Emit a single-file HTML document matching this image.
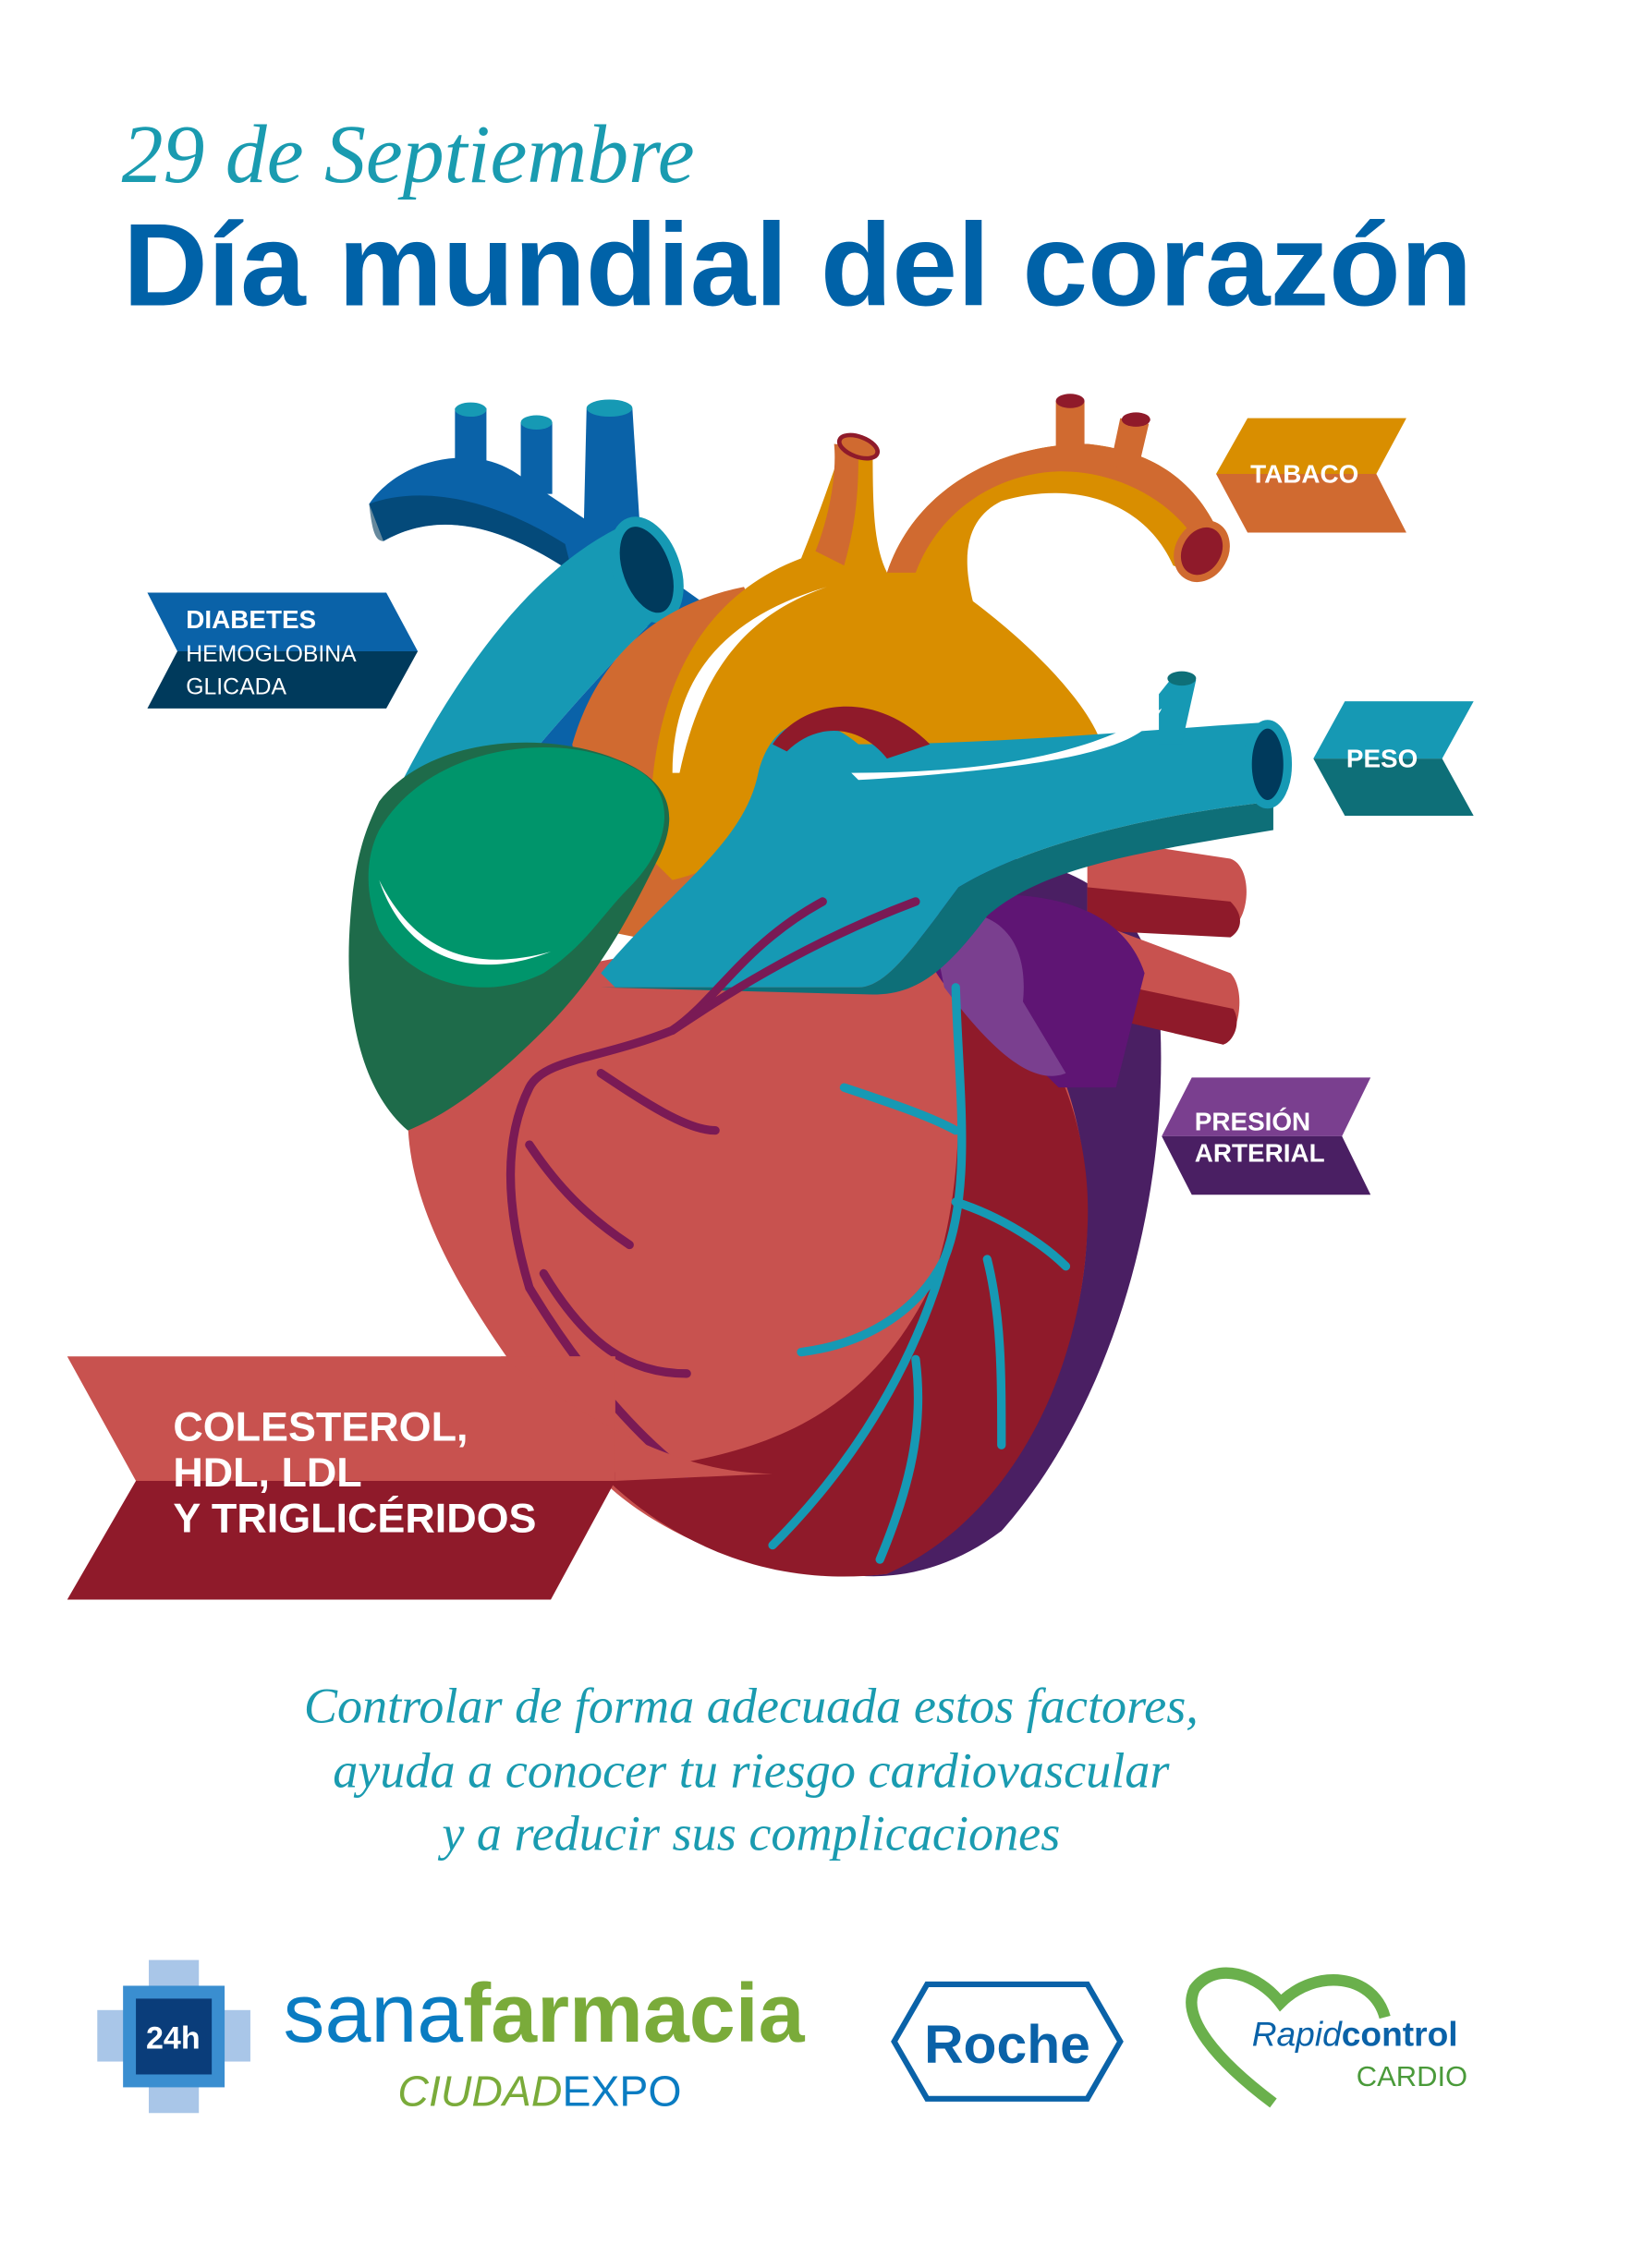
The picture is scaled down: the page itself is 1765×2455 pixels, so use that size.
<!DOCTYPE html>
<html><head><meta charset="utf-8">
<style>
html,body{margin:0;padding:0;background:#fff;}
svg{display:block;}
</style></head>
<body>
<svg width="1765" height="2455" viewBox="0 0 1140 1585" xmlns="http://www.w3.org/2000/svg">
<rect width="1140" height="1585" fill="#fff"/>
<text x="85" y="127" font-family="Liberation Serif, serif" font-style="italic" font-size="58" fill="#1a9bb0">29 de Septiembre</text>
<text x="86" y="213" font-family="Liberation Sans, sans-serif" font-weight="bold" font-size="82" fill="#0062a8">Día mundial del corazón</text>

<!-- Heart -->
<path d="M640 600 C720 590 800 610 810 700 C820 830 780 980 700 1070 C660 1100 620 1105 590 1100 L640 600Z" fill="#4a1f63"/>
<path d="M760 585 L860 600 C875 605 875 640 860 650 L760 640Z" fill="#c8524f"/>
<path d="M760 620 L860 630 C870 640 868 650 860 655 L760 650Z" fill="#8f1a2a"/>
<path d="M780 650 L860 680 C870 690 868 720 855 730 L790 710Z" fill="#c8524f"/>
<path d="M790 690 L862 705 C868 715 862 728 855 730 L790 715Z" fill="#8f1a2a"/>
<path d="M300 720 C370 660 560 650 660 660 C720 680 760 760 760 850 C760 960 700 1060 620 1100 C540 1110 440 1070 400 1010 C330 920 285 850 285 780 Z" fill="#c8524f"/>
<path d="M420 1030 C520 1020 600 1000 650 900 C680 820 670 720 660 660 C720 690 765 770 760 860 C755 970 700 1065 620 1100 C540 1110 470 1080 420 1030Z" fill="#8f1a2a"/>
<path d="M640 630 C700 620 780 620 800 680 L780 760 L740 760 C700 720 660 700 650 670Z" fill="#5f1574"/>
<path d="M650 640 C690 630 720 650 715 700 L745 750 C720 760 690 730 660 690Z" fill="#7a3f8f"/>
<path d="M258 352 C280 320 330 310 360 330 L420 370 L490 420 L470 450 L400 400 C340 360 300 360 268 378 Z" fill="#0a62a8"/>
<path d="M258 352 C260 370 262 378 268 378 C300 360 340 360 400 400 L395 380 C340 345 290 340 258 352Z" fill="#003a5c" opacity="0.6"/>
<rect x="318" y="285" width="22" height="60" fill="#0a62a8"/><ellipse cx="329" cy="286" rx="11" ry="5" fill="#1699b4"/>
<rect x="364" y="295" width="22" height="50" fill="#0a62a8"/><ellipse cx="375" cy="295" rx="11" ry="5" fill="#1699b4"/>
<path d="M410 285 L442 285 L448 380 L408 370Z" fill="#0a62a8"/><ellipse cx="426" cy="285" rx="16" ry="6" fill="#1699b4"/>
<path d="M255 600 C300 500 360 400 440 365 C470 370 480 410 460 430 C410 480 340 560 300 620Z" fill="#1699b4"/>
<path d="M300 620 C340 560 410 480 460 430 L470 480 C430 520 380 580 330 640Z" fill="#0a62a8"/>
<ellipse cx="452" cy="398" rx="20" ry="35" transform="rotate(-20 452 398)" fill="#003a5c" stroke="#1699b4" stroke-width="7"/>
<path d="M400 520 C420 450 470 420 520 410 L560 500 L470 660 L420 650Z" fill="#d06a30"/>
<path d="M455 600 C450 500 480 420 560 390 C580 340 585 320 590 310 L610 310 C610 350 610 380 620 400 C640 340 700 310 760 310 C810 315 840 340 855 380 C840 390 830 400 820 395 C800 350 750 335 700 350 C680 360 670 380 680 420 C720 450 760 490 770 520 L560 560 C520 600 490 610 470 615Z" fill="#d98e00"/>
<path d="M620 400 C640 340 700 310 760 310 C810 315 840 340 855 380 L840 385 C820 345 770 325 730 330 C690 335 655 360 640 400Z" fill="#d06a30"/>
<path d="M583 310 C585 330 580 360 570 385 L590 395 C600 360 600 335 600 312Z" fill="#d06a30"/>
<ellipse cx="600" cy="312" rx="14" ry="7" transform="rotate(20 600 312)" fill="#d06a30" stroke="#8f1a2a" stroke-width="3"/>
<rect x="738" y="280" width="20" height="40" fill="#d06a30"/><ellipse cx="748" cy="280" rx="10" ry="5" fill="#8f1a2a"/>
<path d="M783 292 L803 296 L795 330 L776 325Z" fill="#d06a30"/><ellipse cx="794" cy="293" rx="10" ry="5" fill="#8f1a2a"/>
<ellipse cx="840" cy="385" rx="16" ry="20" transform="rotate(30 840 385)" fill="#8f1a2a" stroke="#d06a30" stroke-width="5"/>
<path d="M470 540 C470 470 510 430 578 410 C520 430 490 470 475 540Z" fill="#fff"/>
<path d="M420 680 C470 620 520 590 530 540 C540 500 570 495 600 520 C700 520 800 510 880 505 L890 560 C800 570 720 590 670 620 C640 660 620 690 600 690 L430 690Z" fill="#1699b4"/>
<path d="M430 690 L600 690 C620 690 640 660 670 620 C720 590 800 570 890 560 L890 580 C800 595 730 605 690 640 C660 680 640 695 610 695 L420 690Z" fill="#0e6f78"/>
<path d="M810 485 L822 470 L836 475 L826 520 L810 520Z" fill="#1699b4"/><ellipse cx="826" cy="474" rx="10" ry="5" fill="#0e6f78"/>
<ellipse cx="886" cy="534" rx="14" ry="28" fill="#003a5c" stroke="#1699b4" stroke-width="6"/>
<path d="M595 540 C680 540 760 530 812 495 C800 520 760 535 600 545Z" fill="#fff"/>
<path d="M540 520 C560 490 610 480 650 520 L620 530 C600 505 570 505 550 525Z" fill="#8f1a2a"/>
<path d="M265 560 C300 515 380 510 430 530 C470 545 475 570 460 600 C440 640 420 680 380 720 C340 760 310 780 285 790 C250 760 240 700 245 640 C248 600 255 580 265 560Z" fill="#1e6b4a"/>
<path d="M265 580 C300 520 390 510 440 535 C475 550 470 590 440 620 C420 640 410 660 380 680 C340 700 290 690 265 650 C255 625 255 600 265 580Z" fill="#00956b"/>
<path d="M265 615 C280 660 320 690 385 665 C330 680 290 665 265 615Z" fill="#fff"/>
<g fill="none" stroke="#7a1a55" stroke-width="6" stroke-linecap="round">
<path d="M575 630 C520 660 500 700 470 720 C420 740 380 740 370 760 C350 800 355 850 370 900 C400 950 440 1000 480 1030"/>
<path d="M470 720 C500 700 560 660 640 630"/>
<path d="M370 800 C390 830 410 850 440 870"/>
<path d="M380 890 C410 940 440 960 480 960"/>
<path d="M420 750 C450 770 480 790 500 790"/>
</g>
<g fill="none" stroke="#1699b4" stroke-width="6" stroke-linecap="round">
<path d="M668 690 C670 760 680 830 660 880 C640 920 600 940 560 945"/>
<path d="M660 880 C640 950 600 1020 540 1080"/>
<path d="M668 840 C700 850 730 870 745 885"/>
<path d="M590 760 C620 770 650 780 668 790"/>
<path d="M640 950 C645 990 640 1030 615 1090"/>
<path d="M690 880 C700 920 700 960 700 1010"/>
</g>

<g font-family="Liberation Sans, sans-serif" font-weight="bold" fill="#fff">
<path d="M872 292 L983 292 L962 331 L850 331Z" fill="#d98e00"/>
<path d="M850 331 L962 331 L983 372 L872 372Z" fill="#d06a30"/>
<text x="874" y="337" font-size="18">TABACO</text>

<path d="M103 414 L270 414 L292 455 L124 455Z" fill="#0a62a8"/>
<path d="M124 455 L292 455 L270 495 L103 495Z" fill="#003a5c"/>
<text x="130" y="439" font-size="18">DIABETES</text>
<text x="130" y="462" font-size="16" font-weight="normal">HEMOGLOBINA</text>
<text x="130" y="485" font-size="16" font-weight="normal">GLICADA</text>

<path d="M940 490 L1030 490 L1008 530 L918 530Z" fill="#1699b4"/>
<path d="M918 530 L1008 530 L1030 570 L940 570Z" fill="#0e6f78"/>
<text x="941" y="536" font-size="18">PESO</text>

<path d="M833 753 L958 753 L938 794 L812 794Z" fill="#7a3f8f"/>
<path d="M812 794 L938 794 L958 835 L833 835Z" fill="#4a1f63"/>
<text x="835" y="790" font-size="18">PRESIÓN</text>
<text x="835" y="812" font-size="18">ARTERIAL</text>

<path d="M47 948 L430 948 L430 1035 L95 1035Z" fill="#c8524f"/>
<path d="M95 1035 L430 1035 L385 1118 L47 1118Z" fill="#8f1a2a"/>
<path d="M350 948 C420 1000 480 1030 540 1030 L430 1035 L430 948Z" fill="#c8524f"/>
<text x="121" y="1007" font-size="29">COLESTEROL,</text>
<text x="121" y="1039" font-size="29">HDL, LDL</text>
<text x="121" y="1071" font-size="29">Y TRIGLICÉRIDOS</text>
</g>

<g font-family="Liberation Serif, serif" font-style="italic" font-size="35" fill="#1a9bb0" text-anchor="middle">
<text x="525" y="1204">Controlar de forma adecuada estos factores,</text>
<text x="525" y="1249">ayuda a conocer tu riesgo cardiovascular</text>
<text x="525" y="1293">y a reducir sus complicaciones</text>
</g>

<rect x="104" y="1370" width="35" height="107" fill="#a9c6e8"/>
<rect x="68" y="1405" width="107" height="36" fill="#a9c6e8"/>
<rect x="86" y="1388" width="71" height="71" fill="#3a8ed0"/>
<rect x="95" y="1397" width="53" height="53" fill="#0a3d7a"/>
<text x="121" y="1432" font-family="Liberation Sans, sans-serif" font-weight="bold" font-size="22" fill="#fff" text-anchor="middle">24h</text>
<text x="198" y="1427" font-family="Liberation Sans, sans-serif" font-size="58" fill="#0a7cc2">sana<tspan fill="#7aab3a" font-weight="bold">farmacia</tspan></text>
<text x="278" y="1472" font-family="Liberation Sans, sans-serif" font-size="30" fill="#7aab3a" font-style="italic">CIUDAD<tspan fill="#0a7cc2" font-style="normal">EXPO</tspan></text>

<path d="M625 1427 L648 1387 L760 1387 L783 1427 L760 1467 L648 1467Z" fill="none" stroke="#0a62a8" stroke-width="4"/>
<text x="704" y="1442" font-family="Liberation Sans, sans-serif" font-weight="bold" font-size="38" fill="#0a62a8" text-anchor="middle">Roche</text>

<path d="M890 1470 C850 1440 825 1410 835 1390 C850 1370 880 1380 895 1400 C920 1375 960 1380 968 1410" fill="none" stroke="#6ab04c" stroke-width="8"/>
<text x="875" y="1430" font-family="Liberation Sans, sans-serif" font-size="24" fill="#0a62a8"><tspan font-style="italic">Rapid</tspan><tspan font-weight="bold">control</tspan></text>
<text x="948" y="1458" font-family="Liberation Sans, sans-serif" font-size="20" fill="#4a9a3a">CARDIO</text>
</svg>
</body></html>
